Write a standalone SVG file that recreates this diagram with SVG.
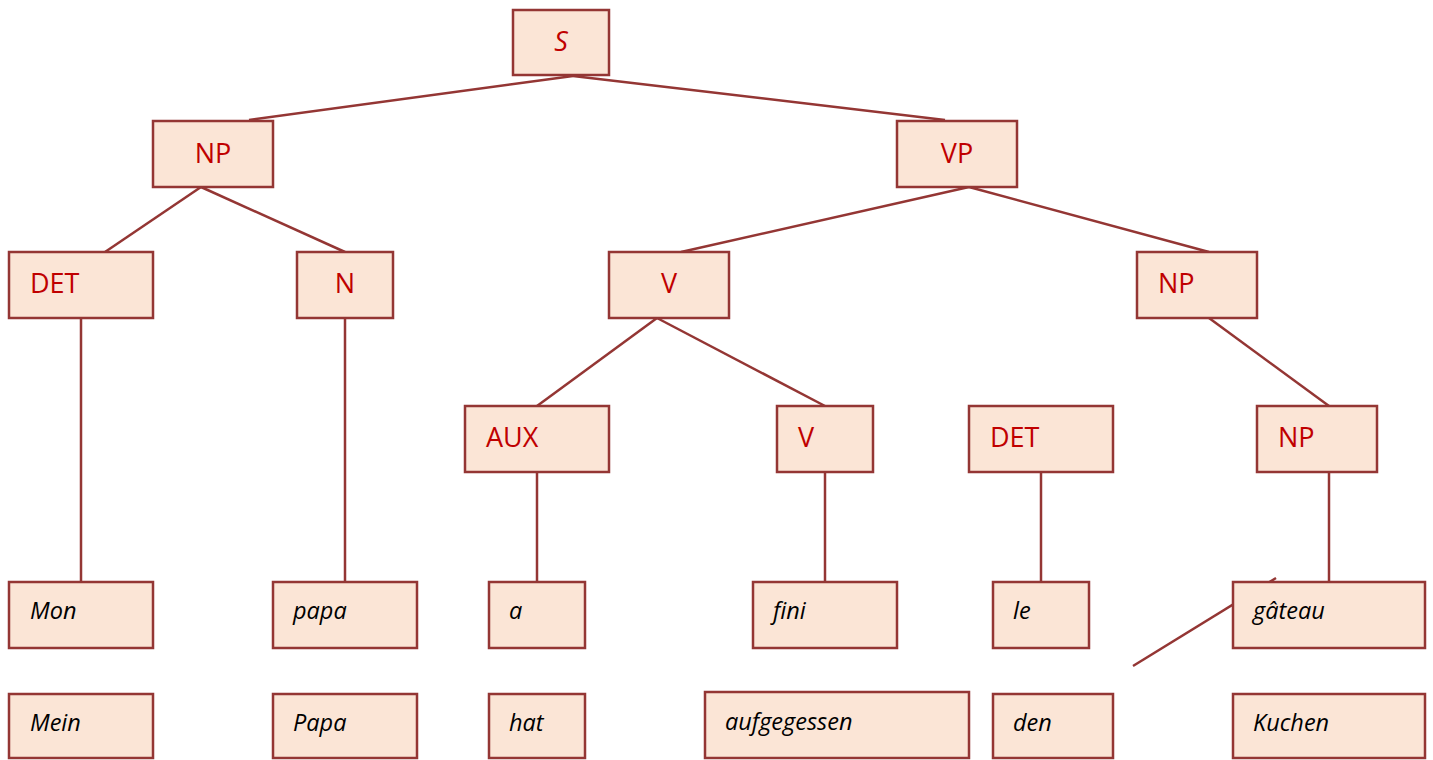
<svg xmlns="http://www.w3.org/2000/svg" width="1433" height="760" viewBox="0 0 1433 760">
<style>
.b{fill:#FBE5D6;stroke:#943634;stroke-width:2.5}
.c{font-family:"Open Sans","Liberation Sans",sans-serif;font-size:27px;fill:#C00000}
.w{font-family:"Open Sans","Liberation Sans",sans-serif;font-size:23.5px;font-style:italic;fill:#000}
#connectors line{stroke:#943634;stroke-width:2.5}
</style>
<rect width="1433" height="760" fill="#fff"/>
<g id="connectors">
<line x1="573" y1="76" x2="249" y2="120"/>
<line x1="573" y1="76" x2="945" y2="120"/>
<line x1="201" y1="187" x2="105" y2="252"/>
<line x1="201" y1="187" x2="345" y2="252"/>
<line x1="969" y1="187" x2="681" y2="252"/>
<line x1="969" y1="187" x2="1209" y2="252"/>
<line x1="81" y1="318" x2="81" y2="582"/>
<line x1="345" y1="318" x2="345" y2="582"/>
<line x1="657" y1="318" x2="537" y2="406"/>
<line x1="657" y1="318" x2="825" y2="406"/>
<line x1="1209" y1="318" x2="1329" y2="406"/>
<line x1="537" y1="472" x2="537" y2="582"/>
<line x1="825" y1="472" x2="825" y2="582"/>
<line x1="1041" y1="472" x2="1041" y2="582"/>
<line x1="1329" y1="472" x2="1329" y2="582"/>
<line x1="1133" y1="666" x2="1276" y2="578"/>
</g>
<g id="S"><rect class="b" x="513" y="10" width="96" height="65"/><text class="c" x="561" y="51" text-anchor="middle" font-style="italic">S</text></g>
<g id="NP1"><rect class="b" x="153" y="121" width="120" height="66"/><text class="c" x="213" y="163" text-anchor="middle">NP</text></g>
<g id="VP"><rect class="b" x="897" y="121" width="120" height="66"/><text class="c" x="957" y="163" text-anchor="middle">VP</text></g>
<g id="DET1"><rect class="b" x="9" y="252" width="144" height="66"/><text class="c" x="30" y="293">DET</text></g>
<g id="N"><rect class="b" x="297" y="252" width="96" height="66"/><text class="c" x="345" y="293" text-anchor="middle">N</text></g>
<g id="V1"><rect class="b" x="609" y="252" width="120" height="66"/><text class="c" x="669" y="293" text-anchor="middle">V</text></g>
<g id="NP2"><rect class="b" x="1137" y="252" width="120" height="66"/><text class="c" x="1158" y="293">NP</text></g>
<g id="AUX"><rect class="b" x="465" y="406" width="144" height="66"/><text class="c" x="486" y="447">AUX</text></g>
<g id="V2"><rect class="b" x="777" y="406" width="96" height="66"/><text class="c" x="798" y="447">V</text></g>
<g id="DET2"><rect class="b" x="969" y="406" width="144" height="66"/><text class="c" x="990" y="447">DET</text></g>
<g id="NP3"><rect class="b" x="1257" y="406" width="120" height="66"/><text class="c" x="1278" y="447">NP</text></g>
<g id="w-Mon"><rect class="b" x="9" y="582" width="144" height="66"/><text class="w" x="30" y="619">Mon</text></g>
<g id="w-papa"><rect class="b" x="273" y="582" width="144" height="66"/><text class="w" x="293" y="619">papa</text></g>
<g id="w-a"><rect class="b" x="489" y="582" width="96" height="66"/><text class="w" x="509" y="619">a</text></g>
<g id="w-fini"><rect class="b" x="753" y="582" width="144" height="66"/><text class="w" x="773" y="619">fini</text></g>
<g id="w-le"><rect class="b" x="993" y="582" width="96" height="66"/><text class="w" x="1013" y="619">le</text></g>
<g id="w-gateau"><rect class="b" x="1233" y="582" width="192" height="66"/><text class="w" x="1253" y="619">gâteau</text></g>
<g id="w-Mein"><rect class="b" x="9" y="694" width="144" height="64"/><text class="w" x="30" y="731">Mein</text></g>
<g id="w-Papa"><rect class="b" x="273" y="694" width="144" height="64"/><text class="w" x="293" y="731">Papa</text></g>
<g id="w-hat"><rect class="b" x="489" y="694" width="96" height="64"/><text class="w" x="509" y="731">hat</text></g>
<g id="w-aufgegessen"><rect class="b" x="705" y="692" width="264" height="66"/><text class="w" x="725" y="730">aufgegessen</text></g>
<g id="w-den"><rect class="b" x="993" y="694" width="120" height="64"/><text class="w" x="1013" y="731">den</text></g>
<g id="w-Kuchen"><rect class="b" x="1233" y="694" width="192" height="64"/><text class="w" x="1253" y="731">Kuchen</text></g>
</svg>
